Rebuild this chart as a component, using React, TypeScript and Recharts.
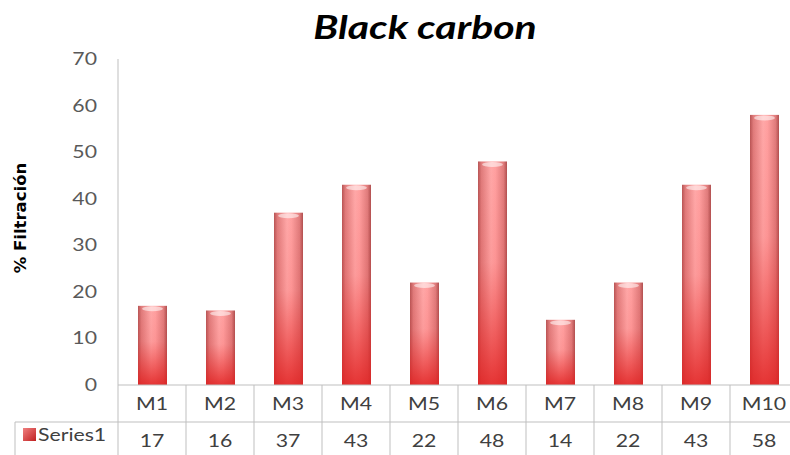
import React from "react";
import { BarChart, Bar, XAxis, YAxis, Label } from "recharts";

// categories / series / ticks
const categories = ["M1", "M2", "M3", "M4", "M5", "M6", "M7", "M8", "M9", "M10"];
const series1 = [17, 16, 37, 43, 22, 48, 14, 22, 43, 58];
const seriesName = "Series1";
const yTicks = [0, 10, 20, 30, 40, 50, 60, 70];

const data = categories.map((name, i) => ({ name, value: series1[i] }));

const CHART_W = 798;
const CHART_H = 455;
const TOP = 59;
const AXIS_W = 118;
const TABLE_H = 70;
const AXIS_Y = CHART_H - TABLE_H;
const BAND = (CHART_W - AXIS_W) / categories.length;
const ROW_Y = AXIS_Y + 37;
const FONT = "Lato, 'Open Sans', sans-serif";
const GRID = "#bfbfbf";
const TXT = "#404040";
const STRETCH = 1.18; // the reference text is a bit wide for its height

// text drawn slightly wider than the font, like the reference
const WideText = ({ x, y, anchor = "middle", size = 18, fill = TXT, children }: any) => (
  <text
    transform={`translate(${x} ${y}) scale(${STRETCH} 1)`}
    textAnchor={anchor}
    fontSize={size}
    fill={fill}
    fontFamily={FONT}
  >
    {children}
  </text>
);

const CylinderBar = (props: any) => {
  const { x, y, width, height } = props;
  if (!height || height <= 0) return null;
  return (
    <g>
      <rect x={x} y={y} width={width} height={height} fill="url(#barH)" />
      <rect x={x} y={y} width={width} height={height} fill="url(#barV)" />
      <ellipse cx={x + width / 2} cy={y + 3} rx={width * 0.36} ry={2.5} fill="#fff" opacity={0.55} />
    </g>
  );
};

const YTick = (props: any) => {
  const { y, payload } = props;
  return (
    <WideText x={97} y={y + 6} anchor="end" fill="#595959">
      {payload.value}
    </WideText>
  );
};

const XTick = (props: any) => {
  const { x, payload, index } = props;
  const left = x - BAND / 2;
  return (
    <g>
      <line x1={left} y1={AXIS_Y} x2={left} y2={CHART_H} stroke={GRID} />
      {index === 0 && (
        <g>
          <line x1={15} y1={ROW_Y} x2={CHART_W} y2={ROW_Y} stroke={GRID} />
          <line x1={15} y1={ROW_Y} x2={15} y2={CHART_H} stroke={GRID} />
          <rect x={23} y={428} width={13} height={13} fill="url(#keyGrad)" />
          <WideText x={38} y={441} anchor="start">
            {seriesName}
          </WideText>
        </g>
      )}
      <WideText x={x} y={AXIS_Y + 25}>
        {payload.value}
      </WideText>
      <WideText x={x} y={ROW_Y + 25}>
        {series1[index]}
      </WideText>
    </g>
  );
};

const YLabel = () => (
  <text
    transform="translate(26 218) rotate(-90)"
    textAnchor="middle"
    fontSize={16.5}
    fontWeight={700}
    fill="#000"
    fontFamily="'DejaVu Sans', sans-serif"
  >
    % Filtración
  </text>
);

export default function App() {
  return (
    <div
      style={{
        position: "fixed",
        left: 0,
        top: 0,
        width: 790,
        height: 455,
        overflow: "hidden",
        background: "#fff",
      }}
    >
      <div
        style={{
          position: "absolute",
          left: 0,
          top: 6,
          width: 850,
          textAlign: "center",
          fontFamily: FONT,
          fontWeight: 700,
          fontStyle: "italic",
          fontSize: 33,
          color: "#000",
          transform: "scaleX(1.24)",
          transformOrigin: "425px 0",
          zIndex: 2,
        }}
      >
        Black carbon
      </div>
      <BarChart
        width={CHART_W}
        height={CHART_H}
        data={data}
        margin={{ top: TOP, right: 0, bottom: 0, left: 0 }}
      >
        <defs>
          <linearGradient id="barH" x1="0" y1="0" x2="1" y2="0">
            <stop offset="0%" stopColor="#b85555" />
            <stop offset="12%" stopColor="#e07c7c" />
            <stop offset="45%" stopColor="#ffa8a8" />
            <stop offset="60%" stopColor="#ffa0a0" />
            <stop offset="88%" stopColor="#e07c7c" />
            <stop offset="100%" stopColor="#b05050" />
          </linearGradient>
          <linearGradient id="barV" x1="0" y1="0" x2="0" y2="1">
            <stop offset="0%" stopColor="#e62828" stopOpacity={0} />
            <stop offset="45%" stopColor="#e62828" stopOpacity={0.1} />
            <stop offset="100%" stopColor="#e02020" stopOpacity={0.85} />
          </linearGradient>
          <linearGradient id="keyGrad" x1="0" y1="0" x2="1" y2="1">
            <stop offset="0%" stopColor="#f08080" />
            <stop offset="100%" stopColor="#c02020" />
          </linearGradient>
        </defs>
        <YAxis
          width={AXIS_W}
          domain={[0, 70]}
          ticks={yTicks}
          interval={0}
          tickLine={false}
          axisLine={{ stroke: GRID }}
          tick={<YTick />}
        >
          <Label content={<YLabel />} />
        </YAxis>
        <XAxis
          dataKey="name"
          height={TABLE_H}
          interval={0}
          tickLine={false}
          axisLine={{ stroke: GRID }}
          tick={<XTick />}
        />
        <Bar dataKey="value" barSize={29} shape={<CylinderBar />} isAnimationActive={false} />
      </BarChart>
    </div>
  );
}
